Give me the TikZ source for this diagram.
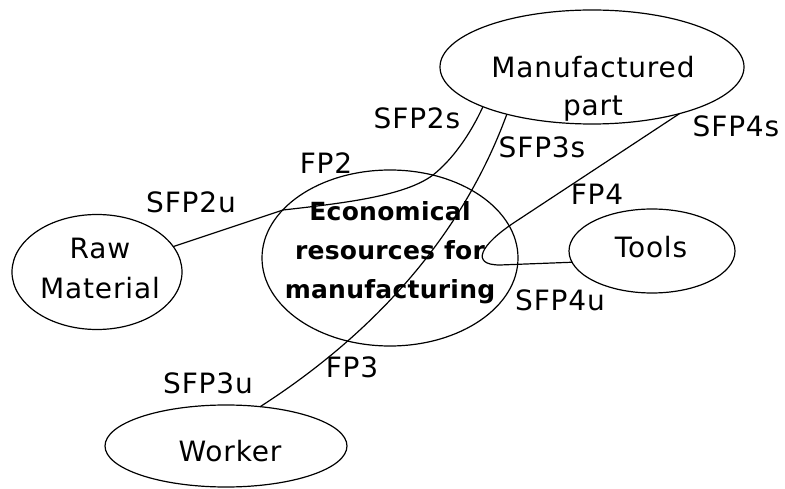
\documentclass[tikz,border=0pt]{standalone}
\usepackage{fontspec}
\setmainfont{DejaVu Sans}[LetterSpace=3]
\newfontfamily\econfont{DejaVu Sans}[LetterSpace=1]
\usetikzlibrary{shapes.geometric}
\begin{document}
\begin{tikzpicture}[x=1pt,y=-1pt,
  ell/.style={draw, ellipse, inner sep=0pt, outer sep=0pt, line width=1.2pt},
  lab/.style={inner sep=0pt, font=\fontsize{28}{38}\selectfont, align=center},
  econ/.style={inner sep=0pt, font=\econfont\bfseries\fontsize{25}{39}\selectfont, align=center},
  conn/.style={line width=1.2pt, line join=round}]
\useasboundingbox (0,0) rectangle (785,489);
% ellipses
\node[ell, minimum width=304pt, minimum height=114pt] (mp) at (592,67) {};
\node[ell, minimum width=170pt, minimum height=115pt] (raw) at (97,272) {};
\node[ell, minimum width=256pt, minimum height=176pt] (econ) at (390,258) {};
\node[ell, minimum width=166pt, minimum height=84pt] (tools) at (652,251) {};
\node[ell, minimum width=242pt, minimum height=82pt] (worker) at (226,446) {};
% texts inside
\node[lab] (mpt) at (593,89) {Manufactured\\part};
\node[lab, font=\fontsize{28}{40}\selectfont] (rawt) at (100,268) {Raw\\Material};
\node[econ] (econt) at (390,252.5) {Economical\\resources for\\manufacturing};
\node[lab] (toolst) at (651,247) {Tools};
\node[lab] (workert) at (230,451) {Worker};
% connectors
\draw[conn] (raw) -- (283,210) .. controls (345,203) and (405,196) .. (433,175)
  .. controls (452,160) and (470,135) .. (mp.200.5);
\draw[conn] (worker.49) .. controls (395,320) and (470,215) .. (mp.209.5);
\draw[conn] (tools.188.5) -- (500,265) .. controls (470,265) and (480,245) .. (515,222) -- (mp.332);
% labels
\node[lab] (sfp2s) at (417,118) {SFP2s};
\node[lab] (sfp3s) at (542,147) {SFP3s};
\node[lab] (sfp4s) at (736,126) {SFP4s};
\node[lab] (fp2) at (326,163) {FP2};
\node[lab] (fp4) at (597,194) {FP4};
\node[lab] (sfp2u) at (191,202) {SFP2u};
\node[lab] (sfp4u) at (560,300) {SFP4u};
\node[lab] (fp3) at (352,367) {FP3};
\node[lab] (sfp3u) at (208,383) {SFP3u};
\end{tikzpicture}
\end{document}
